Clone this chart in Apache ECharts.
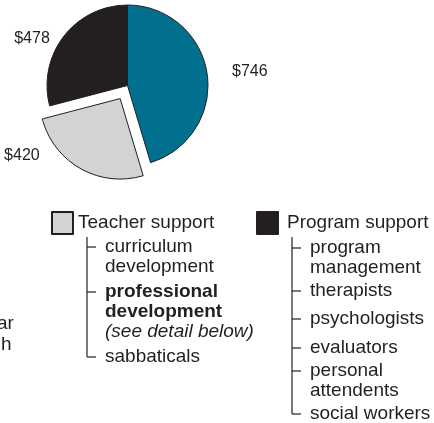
<!DOCTYPE html>
<html>
<head>
<meta charset="utf-8">
<script src="https://cdn.jsdelivr.net/npm/echarts@6/dist/echarts.min.js"></script>
<style>
  html, body { margin: 0; padding: 0; background: #fff; }
  #chart { width: 434px; height: 423px; }
</style>
</head>
<body>
<div id="chart"></div>
<script>
// slices, clockwise from 12 o'clock
const sliceNames = ['Other', 'Teacher support', 'Program support'];
const sliceValues = [746, 420, 478];
const sliceColors = ['#00708e', '#d1d3d4', '#231f20'];

const teacherItems = ['curriculum\ndevelopment', 'professional\ndevelopment', 'sabbaticals'];
const teacherNote = '(see detail below)';
const programItems = ['program\nmanagement', 'therapists', 'psychologists', 'evaluators', 'personal\nattendents', 'social workers'];
const sideFragments = ['ar', 'h'];

const FONT = '"Liberation Sans", Arial, Helvetica, sans-serif';
const INK = '#231f20';

// hand placed layout of the two lists (y of each tick)
const teacherTicks = [247, 292, 357];
const programTicks = [248, 291, 319, 348, 371, 414];
const labelNudge = [0, -13, 2];
const labelLines = [
  { length: 16, length2: 4 },
  { length: 0, length2: 36 },
  { length: 0, length2: 9 }
];

function treeGraphics(lineX, top, ticks, texts, richIndex) {
  const els = [];
  els.push({
    type: 'line',
    shape: { x1: lineX, y1: top, x2: lineX, y2: ticks[ticks.length - 1] },
    style: { stroke: INK, lineWidth: 1.2 }
  });
  ticks.forEach((ty, i) => {
    els.push({
      type: 'line',
      shape: { x1: lineX, y1: ty, x2: lineX + 9, y2: ty },
      style: { stroke: INK, lineWidth: 1.2 }
    });
    const isRich = i === richIndex;
    const txt = isRich
      ? texts[i].split('\n').map(s => '{b|' + s + '}').join('\n') + '\n{i|' + teacherNote + '}'
      : texts[i];
    els.push({
      type: 'text',
      x: lineX + 18,
      y: ty - 10,
      style: {
        text: txt,
        fill: INK,
        font: '19px ' + FONT,
        lineHeight: 20,
        verticalAlign: 'top',
        rich: isRich ? {
          b: { fontWeight: 'bold', fontSize: 19, fontFamily: FONT, lineHeight: 20, fill: INK },
          i: { fontStyle: 'italic', fontSize: 19, fontFamily: FONT, lineHeight: 20, fill: INK }
        } : undefined
      }
    });
  });
  return els;
}

const fragments = sideFragments.map((t, i) => ({
  type: 'text',
  x: i === 0 ? -3 : 1,
  y: i === 0 ? 324 : 345,
  style: { text: t, fill: INK, font: '19px ' + FONT, verticalAlign: 'middle' }
}));

const legendBase = {
  orient: 'horizontal',
  top: 211,
  padding: 0,
  icon: 'rect',
  itemWidth: 21,
  itemHeight: 22,
  selectedMode: false,
  textStyle: { fontSize: 19, color: INK, fontFamily: FONT }
};

const chart = echarts.init(document.getElementById('chart'));
chart.setOption({
  animation: false,
  backgroundColor: '#fff',
  legend: [
    Object.assign({}, legendBase, { data: ['Teacher support'], left: 51 }),
    Object.assign({}, legendBase, {
      data: ['Program support'], left: 256,
      textStyle: { fontSize: 19, color: INK, fontFamily: FONT, padding: [0, 0, 0, 4] }
    })
  ],
  series: [{
    type: 'pie',
    center: [127.5, 85.5],
    radius: 80.5,
    startAngle: 90,
    clockwise: true,
    selectedMode: 'single',
    selectedOffset: 15,
    avoidLabelOverlap: false,
    silent: true,
    itemStyle: { borderColor: INK, borderWidth: 1 },
    label: {
      position: 'outside',
      formatter: '${c}',
      fontSize: 16,
      color: INK,
      fontFamily: FONT
    },
    labelLine: { show: false },
    labelLayout: p => ({ dy: labelNudge[p.dataIndex] }),
    data: sliceValues.map((v, i) => ({
      value: v,
      name: sliceNames[i],
      selected: i === 1,
      itemStyle: { color: sliceColors[i] },
      labelLine: labelLines[i]
    }))
  }],
  graphic: [
    ...treeGraphics(87, 237, teacherTicks, teacherItems, 1),
    ...treeGraphics(292, 237, programTicks, programItems, -1),
    ...fragments
  ]
});
</script>
</body>
</html>
